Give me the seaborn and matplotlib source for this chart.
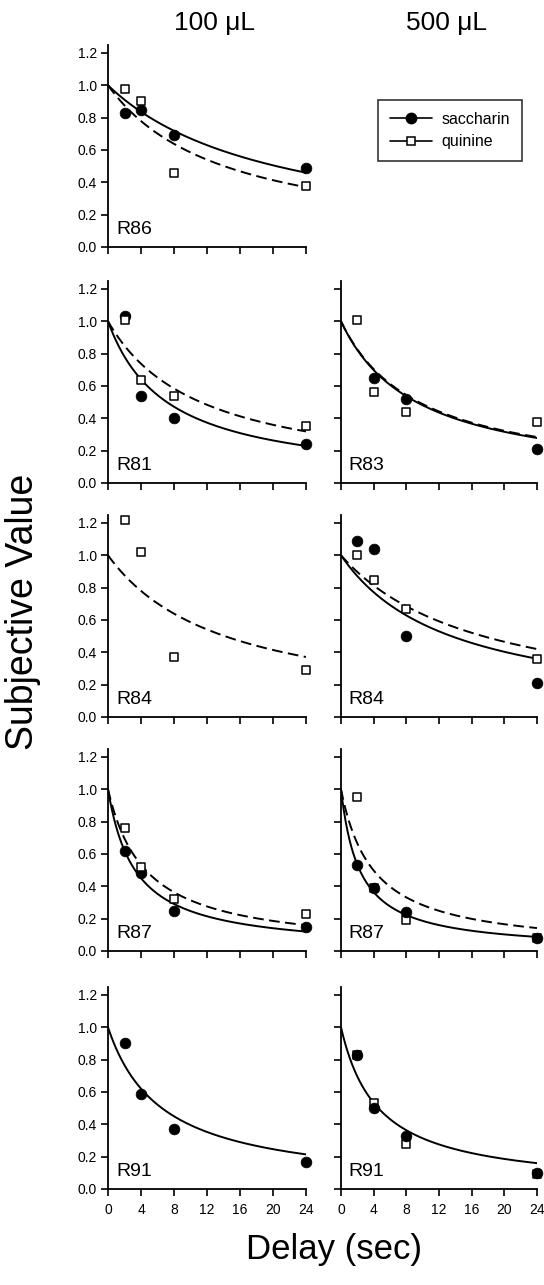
import numpy as np
import pandas as pd
import matplotlib
matplotlib.use("Agg")
import matplotlib.pyplot as plt
from matplotlib.lines import Line2D
import seaborn as sns

sns.set_style("ticks")
plt.rcParams["font.family"] = ["Liberation Sans", "DejaVu Sans"]
plt.rcParams["text.color"] = "black"
plt.rcParams["axes.labelcolor"] = "black"
plt.rcParams["xtick.color"] = "black"
plt.rcParams["ytick.color"] = "black"
plt.rcParams["axes.edgecolor"] = "black"

# Delays (s) at which subjective value was measured
delays = [2, 4, 8, 24]

# Observed subjective values (None = not measured)
sacch_R86_100 = [0.83, 0.85, 0.69, 0.49]
quin_R86_100 = [0.98, 0.90, 0.46, 0.38]
sacch_R81_100 = [1.03, 0.54, 0.40, 0.24]
quin_R81_100 = [1.01, 0.64, 0.54, 0.35]
sacch_R83_500 = [None, 0.65, 0.52, 0.21]
quin_R83_500 = [1.01, 0.56, 0.44, 0.38]
quin_R84_100 = [1.22, 1.02, 0.37, 0.29]
sacch_R84_500 = [1.09, 1.04, 0.50, 0.21]
quin_R84_500 = [1.00, 0.85, 0.67, 0.36]
sacch_R87_100 = [0.62, 0.48, 0.25, 0.15]
quin_R87_100 = [0.76, 0.52, 0.32, 0.23]
sacch_R87_500 = [0.53, 0.39, 0.24, 0.08]
quin_R87_500 = [0.95, 0.39, 0.19, 0.08]
sacch_R91_100 = [0.90, 0.59, 0.37, 0.17]
sacch_R91_500 = [0.83, 0.50, 0.33, 0.10]
quin_R91_500 = [0.83, 0.53, 0.28, 0.09]

# Fitted hyperbolic discounting rates k, V = 1 / (1 + k * D)
k_sacch = {"R86_100": 0.049, "R81_100": 0.14, "R83_500": 0.108,
           "R84_500": 0.074, "R87_100": 0.305, "R87_500": 0.437,
           "R91_100": 0.153, "R91_500": 0.219}
k_quin = {"R86_100": 0.071, "R81_100": 0.089, "R83_500": 0.105,
          "R84_100": 0.0706, "R84_500": 0.0575, "R87_100": 0.219,
          "R87_500": 0.252}

# (row, column, rat, volume, saccharin data, quinine data)
panels = [
    (0, 0, "R86", 100, sacch_R86_100, quin_R86_100),
    (1, 0, "R81", 100, sacch_R81_100, quin_R81_100),
    (1, 1, "R83", 500, sacch_R83_500, quin_R83_500),
    (2, 0, "R84", 100, None, quin_R84_100),
    (2, 1, "R84", 500, sacch_R84_500, quin_R84_500),
    (3, 0, "R87", 100, sacch_R87_100, quin_R87_100),
    (3, 1, "R87", 500, sacch_R87_500, quin_R87_500),
    (4, 0, "R91", 100, sacch_R91_100, None),
    (4, 1, "R91", 500, sacch_R91_500, quin_R91_500),
]

W, H = 544, 1285
fig = plt.figure(figsize=(W / 100, H / 100), dpi=100)

col_left = [108, 341]
col_right = [306, 537]
row_bottom = [247, 483, 717, 951, 1189]
px_per_unit = 161.7
ymax = 1.25

grid = np.linspace(0, 24, 300)

for row, col, rat, vol, sacch, quin in panels:
    x0 = col_left[col] / W
    w = (col_right[col] - col_left[col]) / W
    h = ymax * px_per_unit / H
    y0 = 1 - row_bottom[row] / H
    ax = fig.add_axes([x0, y0, w, h])
    key = f"{rat}_{vol}"

    # fitted curves
    curves = []
    if key in k_sacch:
        curves.append(pd.DataFrame({"delay": grid,
                                    "value": 1 / (1 + k_sacch[key] * grid),
                                    "solution": "saccharin"}))
    if key in k_quin:
        curves.append(pd.DataFrame({"delay": grid,
                                    "value": 1 / (1 + k_quin[key] * grid),
                                    "solution": "quinine"}))
    cdf = pd.concat(curves, ignore_index=True)
    sns.lineplot(data=cdf, x="delay", y="value", style="solution",
                 dashes={"saccharin": "", "quinine": (5.5, 2.8)},
                 color="black", lw=1.4, ax=ax, legend=False, zorder=2)

    # observed points; in the 500 uL column the filled circles sit on top
    z_circle, z_square = (5, 4) if col == 1 else (3, 4)
    if sacch is not None:
        sdf = pd.DataFrame({"delay": delays, "value": sacch}).dropna()
        sns.scatterplot(data=sdf, x="delay", y="value", marker="o", s=60,
                        color="black", edgecolor="black", linewidth=0.5,
                        ax=ax, legend=False, zorder=z_circle, clip_on=False)
    if quin is not None:
        qdf = pd.DataFrame({"delay": delays, "value": quin}).dropna()
        sns.scatterplot(data=qdf, x="delay", y="value", marker="s", s=32,
                        color="white", edgecolor="black", linewidth=1.1,
                        ax=ax, legend=False, zorder=z_square, clip_on=False)

    ax.set_xlim(0, 24)
    ax.set_ylim(0, ymax)
    ax.set_xticks(range(0, 25, 4))
    ax.set_yticks([0, 0.2, 0.4, 0.6, 0.8, 1.0, 1.2])
    ax.set_xlabel("")
    ax.set_ylabel("")
    for s in ["top", "right"]:
        ax.spines[s].set_visible(False)
    for s in ["left", "bottom"]:
        ax.spines[s].set_linewidth(1.3)
    ax.tick_params(direction="out", length=5, width=1.2, labelsize=10,
                   colors="black")
    ax.tick_params(axis="x", pad=5)
    ax.tick_params(axis="y", pad=3)
    if col == 0:
        ax.set_yticklabels([f"{v:.1f}" for v in ax.get_yticks()])
    else:
        ax.set_yticklabels([])
    if row != 4:
        ax.set_xticklabels([])
    ax.text(0.04, 0.045, rat, transform=ax.transAxes, fontsize=14,
            ha="left", va="bottom", color="black")

# column headings
fig.text(215 / W, 1 - 23 / H, "100 μL", fontsize=19, ha="center", va="center")
fig.text(447 / W, 1 - 23 / H, "500 μL", fontsize=19, ha="center", va="center")

# axis titles
fig.text(23 / W, 1 - 612 / H, "Subjective Value", fontsize=27,
         rotation=90, ha="center", va="center")
fig.text(334 / W, 1 - 1250 / H, "Delay (sec)", fontsize=25,
         ha="center", va="center")

# legend
handles = [
    Line2D([], [], color="black", lw=1.2, marker="o", markersize=7.5,
           markerfacecolor="black", label="saccharin"),
    Line2D([], [], color="black", lw=1.2, marker="s", markersize=6,
           markerfacecolor="white", markeredgewidth=1.1, label="quinine"),
]
leg = fig.legend(handles=handles, loc="upper left",
                 bbox_to_anchor=(378 / W, 1 - 100 / H), fontsize=11.5,
                 frameon=True, fancybox=False, edgecolor="black",
                 handlelength=2.6, handletextpad=0.6, borderpad=0.75,
                 labelspacing=0.45, borderaxespad=0)
leg.get_frame().set_linewidth(1.2)

fig.savefig("out.png", dpi=100)
